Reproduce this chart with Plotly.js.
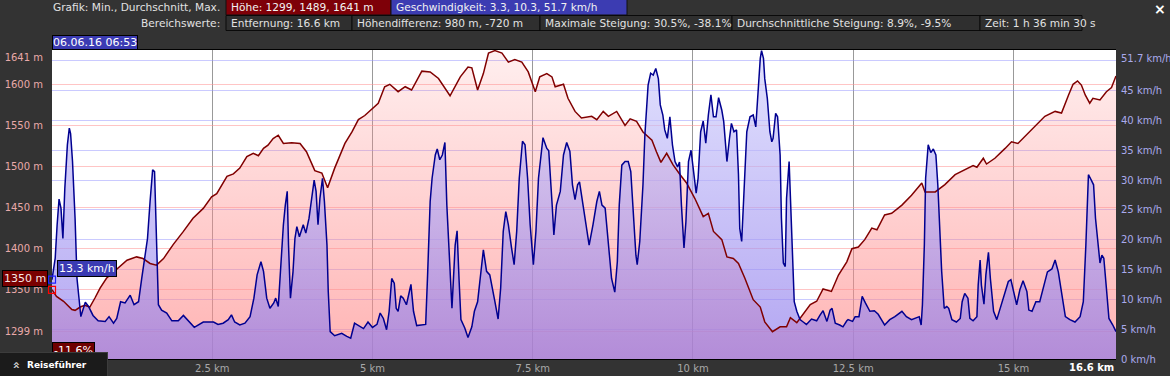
<!DOCTYPE html>
<html>
<head>
<meta charset="utf-8">
<script src="https://cdn.plot.ly/plotly-3.0.1.min.js"></script>
<style>
html,body{margin:0;padding:0;background:#333333;}
#chart{width:1170px;height:376px;}
</style>
</head>
<body>
<div id="chart"></div>
<script>
// ---------- DATA ----------
const elevKm = [0.00,0.07,0.18,0.31,0.36,0.44,0.51,0.59,0.67,0.75,
0.85,1.01,1.17,1.32,1.42,1.53,1.63,1.74,1.89,2.05,
2.20,2.36,2.49,2.57,2.73,2.83,2.93,3.04,3.14,3.22,
3.30,3.37,3.45,3.53,3.61,3.74,3.87,3.97,4.08,4.10,
4.21,4.30,4.41,4.57,4.68,4.78,4.88,4.99,5.09,5.19,
5.27,5.40,5.51,5.61,5.77,5.90,6.03,6.21,6.37,6.49,
6.55,6.64,6.73,6.81,6.91,7.02,7.12,7.22,7.33,7.43,
7.54,7.61,7.72,7.80,7.85,7.98,8.05,8.16,8.26,8.42,
8.50,8.60,8.68,8.81,8.94,9.02,9.12,9.22,9.36,9.43,
9.50,9.59,9.69,9.80,9.90,10.03,10.16,10.24,10.32,10.45,
10.53,10.63,10.71,10.81,10.94,11.05,11.12,11.24,11.36,11.46,
11.52,11.62,11.72,11.83,11.93,12.03,12.16,12.27,12.40,12.48,
12.58,12.68,12.79,12.87,12.99,13.10,13.26,13.41,13.57,13.62,
13.78,13.93,14.09,14.24,14.37,14.43,14.53,14.58,14.71,14.87,
14.97,15.07,15.21,15.36,15.49,15.65,15.75,15.86,15.93,16.00,
16.06,16.12,16.19,16.24,16.35,16.45,16.53,16.60];
const elevM = [1350,1342,1336,1326,1325,1329,1331,1329,1340,1352,
1364,1375,1386,1390,1388,1382,1380,1388,1405,1421,
1437,1449,1463,1467,1488,1491,1498,1512,1516,1513,
1522,1526,1534,1538,1528,1529,1528,1518,1500,1495,
1492,1474,1498,1528,1542,1557,1562,1570,1577,1597,
1600,1591,1597,1593,1616,1615,1607,1586,1609,1621,
1620,1593,1613,1638,1641,1638,1627,1630,1627,1615,
1591,1609,1613,1609,1597,1600,1583,1567,1559,1561,
1557,1567,1561,1567,1550,1558,1555,1542,1532,1518,
1505,1516,1502,1490,1480,1461,1439,1443,1421,1411,
1390,1388,1382,1364,1338,1329,1311,1299,1305,1305,
1316,1310,1321,1332,1336,1351,1348,1368,1384,1400,
1402,1411,1425,1423,1441,1443,1453,1465,1480,1469,
1469,1478,1490,1496,1501,1499,1510,1503,1510,1522,
1530,1528,1539,1551,1561,1567,1565,1587,1600,1604,
1599,1587,1577,1583,1581,1591,1596,1610];

const speedKm = [0.00,0.05,0.08,0.11,0.14,0.17,0.20,0.24,0.27,0.29,
0.32,0.36,0.39,0.43,0.45,0.49,0.52,0.57,0.64,0.72,
0.83,0.89,0.96,1.01,1.07,1.14,1.22,1.28,1.35,1.40,
1.45,1.49,1.53,1.57,1.60,1.62,1.66,1.71,1.79,1.87,
1.97,2.05,2.13,2.22,2.36,2.52,2.59,2.67,2.75,2.80,
2.85,2.93,3.01,3.09,3.15,3.20,3.26,3.30,3.35,3.40,
3.46,3.49,3.53,3.57,3.61,3.64,3.67,3.69,3.72,3.76,
3.79,3.82,3.86,3.92,3.96,4.01,4.05,4.09,4.12,4.15,
4.18,4.22,4.25,4.29,4.31,4.34,4.41,4.52,4.60,4.66,
4.72,4.78,4.86,4.93,5.00,5.07,5.12,5.17,5.22,5.26,
5.30,5.34,5.37,5.40,5.44,5.48,5.53,5.60,5.64,5.69,
5.77,5.83,5.86,5.90,5.93,5.98,6.01,6.05,6.09,6.13,
6.16,6.20,6.24,6.29,6.32,6.35,6.38,6.44,6.49,6.55,
6.59,6.64,6.68,6.73,6.78,6.83,6.91,6.96,7.00,7.04,
7.08,7.12,7.17,7.21,7.25,7.29,7.34,7.38,7.42,7.46,
7.51,7.55,7.59,7.63,7.66,7.72,7.75,7.80,7.83,7.87,
7.93,7.98,8.03,8.08,8.12,8.16,8.20,8.23,8.26,8.29,
8.33,8.38,8.44,8.50,8.54,8.58,8.63,8.68,8.73,8.78,
8.82,8.85,8.89,8.94,8.99,9.03,9.07,9.11,9.13,9.17,
9.22,9.25,9.30,9.34,9.38,9.42,9.46,9.49,9.53,9.56,
9.60,9.64,9.68,9.72,9.76,9.79,9.82,9.86,9.89,9.93,
9.97,10.00,10.05,10.08,10.12,10.16,10.20,10.24,10.28,10.32,
10.36,10.40,10.45,10.48,10.53,10.57,10.60,10.64,10.68,10.71,
10.73,10.76,10.80,10.84,10.89,10.94,10.98,11.02,11.05,11.07,
11.10,11.12,11.16,11.20,11.23,11.25,11.29,11.32,11.36,11.38,
11.41,11.44,11.46,11.50,11.52,11.56,11.58,11.62,11.67,11.72,
11.77,11.85,11.93,11.98,12.03,12.09,12.14,12.17,12.22,12.29,
12.34,12.40,12.42,12.49,12.53,12.59,12.64,12.69,12.76,12.83,
12.89,12.94,12.99,13.07,13.15,13.26,13.33,13.41,13.49,13.53,
13.56,13.58,13.61,13.63,13.67,13.71,13.75,13.79,13.82,13.85,
13.88,13.92,13.96,13.99,14.04,14.11,14.17,14.20,14.24,14.29,
14.32,14.37,14.43,14.45,14.48,14.50,14.54,14.57,14.61,14.64,
14.69,14.74,14.80,14.87,14.92,14.96,15.00,15.05,15.10,15.15,
15.21,15.24,15.29,15.35,15.41,15.47,15.53,15.60,15.65,15.70,
15.75,15.81,15.88,15.96,16.04,16.09,16.13,16.17,16.20,16.25,
16.28,16.32,16.35,16.38,16.41,16.45,16.49,16.55,16.60];
const speedKmh = [13.3,16.9,22.5,26.8,25.3,20.2,28.6,35.9,38.7,37.8,
33.1,23.6,13.5,8.5,7.1,8.5,9.5,8.8,7.3,6.4,
6.3,7.1,6.0,6.8,9.6,9.4,10.7,9.1,9.6,13.5,
17.4,20.2,26.4,31.7,31.4,23.0,9.1,8.2,7.7,6.4,
6.4,7.3,6.4,5.3,6.2,6.2,5.8,6.0,6.6,7.4,
6.2,5.7,6.0,7.1,10.2,14.1,16.3,14.7,10.2,8.5,
9.4,10.2,8.8,16.3,22.5,25.8,28.1,19.1,10.2,14.6,
20.2,22.2,20.5,22.5,21.1,23.6,26.4,30.0,28.1,22.5,
26.9,30.3,26.4,19.1,11.3,4.6,3.9,4.3,3.8,3.5,
6.0,5.6,5.1,6.2,5.3,5.8,7.7,6.8,4.9,8.0,
13.5,12.7,8.5,8.0,10.6,10.2,9.1,12.5,8.0,5.6,
5.7,5.8,14.1,26.4,30.3,34.2,35.2,33.4,34.2,36.3,
25.8,15.8,8.5,19.1,21.5,13.5,6.6,5.2,3.6,5.4,
8.0,9.6,13.5,18.3,14.7,14.1,9.6,6.7,11.9,21.4,
24.7,22.5,18.6,15.8,21.4,30.3,36.5,35.9,30.3,22.5,
15.8,21.4,30.3,34.8,37.1,35.3,34.9,26.4,20.8,25.8,
28.1,34.2,36.3,34.8,29.2,26.7,29.2,29.7,27.5,25.3,
21.9,19.1,22.5,26.4,28.1,25.8,25.3,19.1,13.5,11.2,
16.3,25.8,32.5,33.1,33.1,31.4,24.1,17.4,15.8,19.7,
29.2,37.6,45.9,47.9,47.6,48.7,47.0,42.6,40.9,38.4,
37.0,40.6,35.9,33.1,32.2,33.0,25.8,18.6,23.0,33.1,
35.0,32.5,27.8,30.3,38.1,39.9,36.2,40.9,44.3,40.6,
40.6,43.8,41.7,39.8,33.1,37.0,39.5,38.1,38.4,30.9,
21.9,19.7,29.2,38.1,40.6,40.9,38.9,45.4,50.4,51.7,
50.4,47.0,43.7,38.1,36.4,37.0,41.2,40.6,34.2,23.6,
16.1,15.5,26.9,33.1,26.9,15.8,9.6,8.0,6.6,6.2,
5.8,6.7,6.4,7.3,8.1,6.3,8.2,8.5,6.0,5.7,
5.4,6.4,6.6,6.3,7.1,7.1,10.5,9.4,8.0,8.1,
7.5,6.6,5.7,6.6,7.1,8.0,7.1,6.6,6.9,7.1,
5.7,9.1,19.1,30.3,35.9,34.6,35.2,34.2,29.2,21.4,
14.7,8.5,8.8,8.5,6.6,6.2,6.8,9.6,11.0,10.2,
6.8,6.4,7.1,12.4,16.6,12.4,9.2,14.1,17.9,13.5,
8.0,6.6,8.8,11.3,13.0,13.3,11.3,9.1,11.6,13.1,
11.3,8.2,8.0,9.6,9.6,11.9,14.6,15.1,16.6,14.6,
11.3,7.1,6.6,6.2,7.1,9.6,19.1,30.9,30.3,29.2,
23.6,19.1,16.1,17.4,16.9,11.9,6.8,5.7,4.6];

const xTickVals = [2.5, 5, 7.5, 10, 12.5, 15];
const xTickText = ['2.5 km', '5 km', '7.5 km', '10 km', '12.5 km', '15 km'];
const elevTickVals = [1299, 1350, 1400, 1450, 1500, 1550, 1600];
const elevTickText = ['1299 m', '1350 m', '1400 m', '1450 m', '1500 m', '1550 m', '1600 m'];
const elevMaxTick = [1641];
const elevMaxText = ['1641 m'];
const speedTickVals = [0, 5, 10, 15, 20, 25, 30, 35, 40, 45, 50];
const speedTickText = ['0 km/h', '5 km/h', '10 km/h', '15 km/h', '20 km/h', '25 km/h', '30 km/h', '35 km/h', '40 km/h', '45 km/h', ''];
const speedMaxTick = [51.7];
const speedMaxText = ['51.7 km/h'];
const totalKm = 16.6;

const headerRow1 = ['Höhe: 1299, 1489, 1641 m', 'Geschwindigkeit: 3.3, 10.3, 51.7 km/h'];
const headerRow2 = ['Entfernung: 16.6 km', 'Höhendifferenz: 980 m, -720 m', 'Maximale Steigung: 30.5%, -38.1%',
                    'Durchschnittliche Steigung: 8.9%, -9.5%', 'Zeit: 1 h 36 min 30 s'];

// ---------- LAYOUT HELPERS (pixel -> paper) ----------
const PL = 52, PR = 1116, PT = 50, PB = 359;
const PX = x => (x - PL) / (PR - PL);
const PY = y => (PB - y) / (PB - PT);
const FONT = 'DejaVu Sans, Verdana, sans-serif';
const HF = 10.6;

const elevRange = [1265.8, 1641.7];
const speedRange = [0, 51.8];

const traces = [
  { x: elevKm, y: elevM, yaxis: 'y', type: 'scatter', mode: 'none', fill: 'tozeroy',
    fillgradient: { type: 'vertical', start: elevRange[0], stop: elevRange[1],
      colorscale: [[0, 'rgba(255,140,140,0.66)'], [1, 'rgba(255,140,140,0.14)']] },
    hoverinfo: 'skip' },
  { x: speedKm, y: speedKmh, yaxis: 'y2', type: 'scatter', mode: 'none', fill: 'tozeroy',
    fillgradient: { type: 'vertical', start: speedRange[0], stop: speedRange[1],
      colorscale: [[0, 'rgba(140,120,235,0.66)'], [1, 'rgba(210,210,253,0.66)']] },
    hoverinfo: 'skip' },
  { x: elevKm, y: elevM, yaxis: 'y3', type: 'scatter', mode: 'lines',
    line: { color: '#800000', width: 1.5 }, hoverinfo: 'skip' },
  { x: speedKm, y: speedKmh, yaxis: 'y4', type: 'scatter', mode: 'lines',
    line: { color: '#000090', width: 1.5 }, hoverinfo: 'skip' },
  { x: [elevKm[0]], y: [elevM[0]], yaxis: 'y3', type: 'scatter', mode: 'markers', cliponaxis: false,
    marker: { symbol: 'square-open', size: 7, color: '#ff0000', line: { width: 1.2, color: '#ff0000' } }, hoverinfo: 'skip' },
  { x: [speedKm[0]], y: [speedKmh[0]], yaxis: 'y4', type: 'scatter', mode: 'markers', cliponaxis: false,
    marker: { symbol: 'square-open', size: 7, color: '#2020ff', line: { width: 1.2, color: '#2020ff' } }, hoverinfo: 'skip' }
];

const shapes = [];
const annotations = [];

// header row 1
annotations.push({ xref: 'paper', yref: 'paper', x: PX(222), y: PY(7.5), xanchor: 'right', yanchor: 'middle',
  text: 'Grafik: Min., Durchschnitt, Max.', showarrow: false, font: { family: FONT, size: HF, color: '#e2e2e2' } });
const row1Boxes = [[226, 391, '#7e0008'], [391, 627, '#3c3cb2']];
row1Boxes.forEach((b, i) => {
  shapes.push({ type: 'rect', xref: 'paper', yref: 'paper', x0: PX(b[0]), x1: PX(b[1]), y0: PY(15), y1: PY(-1),
    fillcolor: b[2], line: { width: 1, color: '#111' }, layer: 'above' });
  annotations.push({ xref: 'paper', yref: 'paper', x: PX(b[0] + 3), y: PY(7.5), xanchor: 'left', yanchor: 'middle',
    text: headerRow1[i], showarrow: false, font: { family: FONT, size: HF, color: '#f2f2f2' } });
});
// header row 2
annotations.push({ xref: 'paper', yref: 'paper', x: PX(222), y: PY(23), xanchor: 'right', yanchor: 'middle',
  text: 'Bereichswerte:', showarrow: false, font: { family: FONT, size: HF, color: '#e2e2e2' } });
const row2Edges = [226, 352, 540, 732, 980, 1082];
headerRow2.forEach((t, i) => {
  shapes.push({ type: 'rect', xref: 'paper', yref: 'paper', x0: PX(row2Edges[i]), x1: PX(row2Edges[i + 1]), y0: PY(30.5), y1: PY(15.5),
    fillcolor: '#2f2f2f', line: { width: 1, color: '#0a0a0a' }, layer: 'above' });
  annotations.push({ xref: 'paper', yref: 'paper', x: PX(row2Edges[i] + 3), y: PY(23), xanchor: 'left', yanchor: 'middle',
    text: t, showarrow: false, font: { family: FONT, size: HF, color: '#e2e2e2' } });
});
// close cross
annotations.push({ xref: 'paper', yref: 'paper', x: PX(1160), y: PY(9), xanchor: 'center', yanchor: 'middle',
  text: '<b>×</b>', showarrow: false, font: { family: FONT, size: 14, color: '#ffffff' } });

// date box
annotations.push({ xref: 'paper', yref: 'paper', x: PX(52), y: PY(49.5), xanchor: 'left', yanchor: 'bottom',
  text: '06.06.16 06:53', showarrow: false, bgcolor: '#3b3bb3', bordercolor: '#000', borderwidth: 1, borderpad: 0,
  font: { family: FONT, size: 11, color: '#ffffff' } });

// cursor value labels
annotations.push({ xref: 'x', yref: 'y4', x: speedKm[0], y: speedKmh[0], xanchor: 'left', yanchor: 'bottom',
  xshift: 5, yshift: 3, text: speedKmh[0].toFixed(1) + ' km/h', showarrow: false,
  bgcolor: '#3b3bb3', bordercolor: '#000', borderwidth: 1, borderpad: 1, font: { family: FONT, size: 11, color: '#ffffff' } });
annotations.push({ xref: 'paper', yref: 'y3', x: 0, y: elevM[0], xanchor: 'right', yanchor: 'middle',
  xshift: -4, yshift: 11, text: elevM[0] + ' m', showarrow: false,
  bgcolor: '#7a0000', bordercolor: '#000', borderwidth: 1, borderpad: 1, font: { family: FONT, size: 11, color: '#f6e6e6' } });
annotations.push({ xref: 'paper', yref: 'paper', x: 0, y: PY(350), xanchor: 'left', yanchor: 'middle',
  text: '-11.6%', showarrow: false,
  bgcolor: '#6e0000', bordercolor: '#000', borderwidth: 1, borderpad: 1, font: { family: FONT, size: 11, color: '#ffffff' } });

// total distance label
annotations.push({ xref: 'x', yref: 'paper', x: totalKm, y: PY(367), xanchor: 'right', yanchor: 'middle',
  text: '<b>' + totalKm + ' km</b>', showarrow: false, font: { family: FONT, size: 10, color: '#ffffff' } });

// Reiseführer tab
annotations.push({ xref: 'paper', yref: 'paper', x: PX(-1), y: PY(352), xanchor: 'left', yanchor: 'top',
  text: ' ', showarrow: false, width: 107, height: 25, bgcolor: '#1b1b1b', bordercolor: '#3c3c3c', borderwidth: 1, borderpad: 0,
  font: { family: FONT, size: 10, color: '#fff' } });
annotations.push({ xref: 'paper', yref: 'paper', x: PX(16), y: PY(365), xanchor: 'center', yanchor: 'middle',
  text: '<b>»</b>', textangle: -90, showarrow: false, font: { family: FONT, size: 12, color: '#cfcfcf' } });
annotations.push({ xref: 'paper', yref: 'paper', x: PX(25), y: PY(365), xanchor: 'left', yanchor: 'middle',
  text: '<b>Reiseführer</b>', showarrow: false, font: { family: FONT, size: 9, color: '#ffffff' } });

const layout = {
  width: 1170, height: 376,
  paper_bgcolor: '#333333', plot_bgcolor: '#ffffff',
  margin: { l: PL, r: 1170 - PR, t: PT, b: 376 - PB, pad: 0 },
  showlegend: false,
  font: { family: FONT, size: 10, color: '#dddddd' },
  xaxis: { range: [0, totalKm], tickvals: xTickVals, ticktext: xTickText, showgrid: true, gridcolor: '#999999', gridwidth: 1,
    zeroline: false, ticks: '', tickfont: { family: FONT, size: 10, color: '#a8a8a8' }, showline: true, linecolor: '#000', linewidth: 1, mirror: true },
  yaxis: { range: elevRange, tickvals: elevTickVals, ticktext: elevTickText, showgrid: true, gridcolor: 'rgba(255,150,150,0.55)', gridwidth: 1,
    zeroline: false, ticks: '', ticklabelstandoff: 8, tickfont: { family: FONT, size: 10, color: '#e9a9a9' }, showline: false },
  yaxis2: { overlaying: 'y', side: 'right', range: speedRange, tickvals: speedTickVals, ticktext: speedTickText,
    showgrid: true, gridcolor: 'rgba(150,150,255,0.5)', gridwidth: 1, zeroline: false, ticks: '', ticklabelstandoff: 4,
    tickfont: { family: FONT, size: 10, color: '#aaaaec' }, showline: false },
  yaxis3: { overlaying: 'y', side: 'left', range: elevRange, tickvals: elevMaxTick, ticktext: elevMaxText, showgrid: false,
    zeroline: false, ticks: '', ticklabelstandoff: 8, ticklabelshift: 7, tickfont: { family: FONT, size: 10, color: '#e9a9a9' }, showline: false },
  yaxis4: { overlaying: 'y', side: 'right', range: speedRange, tickvals: speedMaxTick, ticktext: speedMaxText, showgrid: false,
    zeroline: false, ticks: '', ticklabelstandoff: 4, ticklabelshift: 8, tickfont: { family: FONT, size: 10, color: '#aaaaec' }, showline: false },
  shapes: shapes,
  annotations: annotations
};

Plotly.newPlot('chart', traces, layout, { staticPlot: true, displayModeBar: false });
</script>
</body>
</html>
